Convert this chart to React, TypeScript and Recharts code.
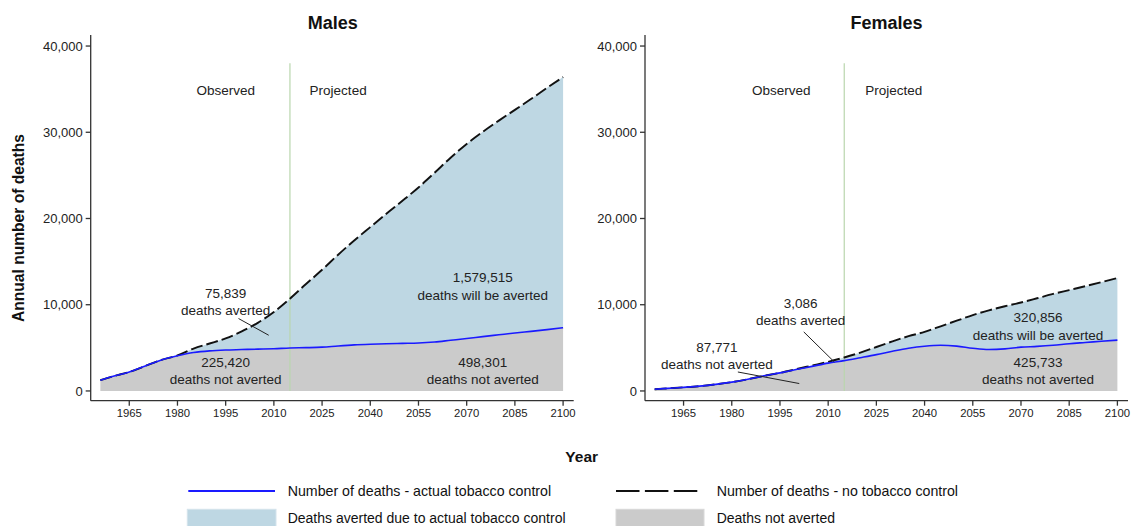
import React from 'react'
import {
  ComposedChart,
  Area,
  Line,
  XAxis,
  YAxis,
  ReferenceLine,
  ReferenceDot,
} from 'recharts'

const FONT = 'Arial, "Liberation Sans", sans-serif'

const years = [
  1956, 1960, 1965, 1970, 1975, 1980, 1985, 1990, 1995, 2000, 2005, 2010, 2015, 2020, 2025, 2030,
  2035, 2040, 2045, 2050, 2055, 2060, 2065, 2070, 2075, 2080, 2085, 2090, 2095, 2100,
]

const malesActual = [
  1250, 1700, 2200, 2900, 3600, 4080, 4450, 4650, 4750, 4800, 4850, 4900, 4980, 5020, 5080, 5220,
  5340, 5420, 5480, 5520, 5560, 5680, 5880, 6080, 6300, 6510, 6720, 6910, 7110, 7330,
]
const malesNoControl = [
  1250, 1700, 2200, 2900, 3600, 4120, 4920, 5500, 6100, 6900, 7900, 9150, 10700, 12400, 14050, 15800,
  17450, 19000, 20550, 22050, 23600, 25300, 27050, 28650, 30050, 31350, 32600, 33850, 35150, 36400,
]

const femalesActual = [
  200, 300, 420, 560, 760, 1020, 1360, 1750, 2100, 2480, 2850, 3230, 3520, 3860, 4210, 4600,
  4950, 5190, 5300, 5200, 4950, 4800, 4880, 5080, 5170, 5300, 5480, 5620, 5760, 5900,
]
const femalesNoControl = [
  200, 300, 420, 560, 760, 1020, 1360, 1750, 2100, 2520, 2950, 3380, 3880, 4450, 5100, 5750,
  6350, 6850, 7500, 8150, 8800, 9350, 9820, 10260, 10750, 11250, 11700, 12150, 12620, 13100,
]

const xTicks = [1965, 1980, 1995, 2010, 2025, 2040, 2055, 2070, 2085, 2100]
const yTicks = [0, 10000, 20000, 30000, 40000]

const splitYear = 2015

type Note = { year: number; value: number; lines: string[] }
type Pointer = { from: [number, number]; to: [number, number] }

const malesNotes: Note[] = [
  { year: 1995, value: 34900, lines: ['Observed'] },
  { year: 2030, value: 34900, lines: ['Projected'] },
  { year: 1995, value: 11370, lines: ['75,839', 'deaths averted'] },
  { year: 1995, value: 3370, lines: ['225,420', 'deaths not averted'] },
  { year: 2075, value: 13160, lines: ['1,579,515', 'deaths will be averted'] },
  { year: 2075, value: 3370, lines: ['498,301', 'deaths not averted'] },
]
const malesPointers: Pointer[] = [{ from: [1999, 8400], to: [2008.4, 6460] }]

const femalesNotes: Note[] = [
  { year: 1995.4, value: 34900, lines: ['Observed'] },
  { year: 2030.4, value: 34900, lines: ['Projected'] },
  { year: 2001.4, value: 10200, lines: ['3,086', 'deaths averted'] },
  { year: 1975.4, value: 5100, lines: ['87,771', 'deaths not averted'] },
  { year: 2075.3, value: 8520, lines: ['320,856', 'deaths will be averted'] },
  { year: 2075.3, value: 3370, lines: ['425,733', 'deaths not averted'] },
]
const femalesPointers: Pointer[] = [
  { from: [2002.4, 6850], to: [2011.9, 3370] },
  { from: [1981.9, 2200], to: [2001.0, 860] },
]

const BLUE_FILL = '#bed7e3'
const GRAY_FILL = '#cbcbcb'
const AXIS = '#333'

const noteContent = (lines: string[]) => (props: any) => {
  const vb = props.viewBox || {}
  const x = (vb.x ?? 0) + (vb.width ?? 0) / 2
  const y = (vb.y ?? 0) + (vb.height ?? 0) / 2
  return (
    <text x={x} y={y} textAnchor="middle" fontSize={13.5} fontFamily={FONT} fill="#222">
      {lines.map((l, i) => (
        <tspan key={i} x={x} dy={i === 0 ? '0.36em' : 17.3}>
          {l}
        </tspan>
      ))}
    </text>
  )
}

function Panel({
  actual,
  noControl,
  notes,
  pointers,
  width,
  yAxisWidth,
}: {
  actual: number[]
  noControl: number[]
  notes: Note[]
  pointers: Pointer[]
  width: number
  yAxisWidth: number
}) {
  const data = years.map((year, i) => ({
    year,
    actual: actual[i],
    averted: noControl[i] - actual[i],
    noControl: noControl[i],
  }))
  return (
    <ComposedChart
      width={width}
      height={420}
      data={data}
      margin={{ top: 35, right: width - yAxisWidth - 483, left: 0, bottom: 0 }}
    >
      <XAxis
        dataKey="year"
        type="number"
        domain={[1953, 2103.3]}
        ticks={xTicks}
        allowDataOverflow
        height={19.3}
        tickSize={5}
        tickMargin={3}
        stroke={AXIS}
        strokeWidth={1.3}
        tick={{ fontSize: 11.3, fill: '#222', fontFamily: FONT }}
      />
      <YAxis
        type="number"
        domain={[-1130, 41280]}
        ticks={yTicks}
        allowDataOverflow
        width={yAxisWidth}
        tickSize={5}
        tickMargin={3}
        stroke={AXIS}
        strokeWidth={1.3}
        tickFormatter={(v) => v.toLocaleString('en-US')}
        tick={{ fontSize: 13, fill: '#222', fontFamily: FONT }}
      />
      <Area
        dataKey="actual"
        stackId="a"
        type="monotone"
        stroke="none"
        fill={GRAY_FILL}
        fillOpacity={1}
        isAnimationActive={false}
      />
      <Area
        dataKey="averted"
        stackId="a"
        type="monotone"
        stroke="none"
        fill={BLUE_FILL}
        fillOpacity={1}
        isAnimationActive={false}
      />
      <ReferenceLine
        segment={[
          { x: splitYear, y: 0 },
          { x: splitYear, y: 38000 },
        ]}
        stroke="#b9d6ad"
        strokeWidth={1.2}
      />
      <Line
        dataKey="noControl"
        type="monotone"
        stroke="#111"
        strokeWidth={1.9}
        strokeDasharray="12 4"
        dot={false}
        isAnimationActive={false}
      />
      <Line
        dataKey="actual"
        type="monotone"
        stroke="#1a1aff"
        strokeWidth={1.6}
        dot={false}
        isAnimationActive={false}
      />
      {pointers.map((p, i) => (
        <ReferenceLine
          key={'p' + i}
          segment={[
            { x: p.from[0], y: p.from[1] },
            { x: p.to[0], y: p.to[1] },
          ]}
          stroke="#222"
          strokeWidth={1}
        />
      ))}
      {notes.map((n, i) => (
        <ReferenceDot
          key={'n' + i}
          x={n.year}
          y={n.value}
          r={1}
          fill="none"
          stroke="none"
          label={{ content: noteContent(n.lines) }}
        />
      ))}
    </ComposedChart>
  )
}

const textStyle: React.CSSProperties = {
  position: 'absolute',
  fontFamily: FONT,
  color: '#111',
  whiteSpace: 'nowrap',
  lineHeight: 1,
}

export default function App() {
  return (
    <div
      style={{
        position: 'absolute',
        left: 0,
        top: 0,
        width: 1132,
        height: 526,
        background: '#fff',
        overflow: 'hidden',
      }}
    >
      <div style={{ position: 'absolute', left: 0, top: 0 }}>
        <Panel
          actual={malesActual}
          noControl={malesNoControl}
          notes={malesNotes}
          pointers={malesPointers}
          width={580}
          yAxisWidth={90.7}
        />
      </div>
      <div style={{ position: 'absolute', left: 560, top: 0 }}>
        <Panel
          actual={femalesActual}
          noControl={femalesNoControl}
          notes={femalesNotes}
          pointers={femalesPointers}
          width={572}
          yAxisWidth={85}
        />
      </div>

      <div
        style={{
          ...textStyle,
          left: 332.7,
          top: 22.7,
          transform: 'translate(-50%, -50%)',
          fontSize: 18,
          fontWeight: 'bold',
        }}
      >
        Males
      </div>
      <div
        style={{
          ...textStyle,
          left: 886.5,
          top: 22.7,
          transform: 'translate(-50%, -50%)',
          fontSize: 18,
          fontWeight: 'bold',
        }}
      >
        Females
      </div>
      <div
        style={{
          ...textStyle,
          left: 19,
          top: 228,
          transform: 'translate(-50%, -50%) rotate(-90deg)',
          fontSize: 15.6,
          fontWeight: 'bold',
        }}
      >
        Annual number of deaths
      </div>
      <div
        style={{
          ...textStyle,
          left: 581.7,
          top: 456.7,
          transform: 'translate(-50%, -50%)',
          fontSize: 15.5,
          fontWeight: 'bold',
        }}
      >
        Year
      </div>

      {/* legend */}
      <svg style={{ position: 'absolute', left: 0, top: 0 }} width={1132} height={526}>
        <line x1={188.3} x2={275} y1={491} y2={491} stroke="#1a1aff" strokeWidth={2} />
        <line
          x1={616}
          x2={697.3}
          y1={491}
          y2={491}
          stroke="#111"
          strokeWidth={2}
          strokeDasharray="23.5 5.4"
        />
        <rect x={187.3} y={509.3} width={88.7} height={20} fill={BLUE_FILL} stroke="#d4e3ec" />
        <rect x={616} y={509.3} width={88} height={20} fill={GRAY_FILL} stroke="#d8d8d8" />
      </svg>
      <div style={{ ...textStyle, left: 287.7, top: 491, transform: 'translateY(-50%)', fontSize: 14.2 }}>
        Number of deaths - actual tobacco control
      </div>
      <div style={{ ...textStyle, left: 716.7, top: 491, transform: 'translateY(-50%)', fontSize: 14.2 }}>
        Number of deaths - no tobacco control
      </div>
      <div style={{ ...textStyle, left: 287.7, top: 518, transform: 'translateY(-50%)', fontSize: 14 }}>
        Deaths averted due to actual tobacco control
      </div>
      <div style={{ ...textStyle, left: 716.7, top: 518, transform: 'translateY(-50%)', fontSize: 14 }}>
        Deaths not averted
      </div>
    </div>
  )
}
